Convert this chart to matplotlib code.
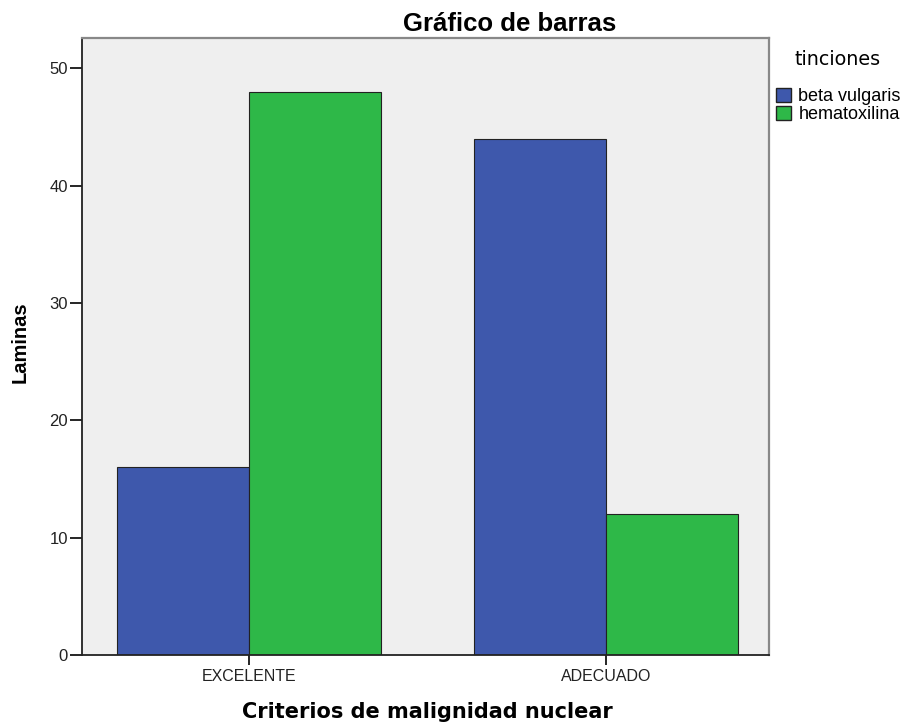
import matplotlib.pyplot as plt
import numpy as np
from matplotlib.patches import Patch

plt.rcParams['font.family'] = ['Liberation Sans', 'DejaVu Sans']

categories = ["EXCELENTE", "ADECUADO"]
series_names = ["beta vulgaris", "hematoxilina"]
beta_vulgaris = [16, 44]
hematoxilina = [48, 12]
yticks = [0, 10, 20, 30, 40, 50]

colors = ["#3e58ac", "#2eb848"]

W, H = 904, 722
fig = plt.figure(figsize=(W / 100, H / 100), dpi=100)
ax = fig.add_axes([82 / W, 1 - 655 / H, (769 - 82) / W, (655 - 38) / H])
ax.set_facecolor("#efefef")

x = np.arange(len(categories))
w = 0.37
ax.bar(x - w / 2, beta_vulgaris, w, color=colors[0], edgecolor="#222222", linewidth=0.8)
ax.bar(x + w / 2, hematoxilina, w, color=colors[1], edgecolor="#222222", linewidth=0.8)

ax.set_xlim(-0.468, 1.457)
ax.set_ylim(0, 52.6)
ax.set_xticks(x)
ax.set_xticklabels(categories, fontsize=11.5, color="#222222")
ax.set_yticks(yticks)
ax.tick_params(axis="y", labelsize=12, length=9, width=1.2, pad=1, labelcolor="#222222")
ax.tick_params(axis="x", length=7, width=1.2, pad=3)

for s in ["top", "right"]:
    ax.spines[s].set_color("#888888")
    ax.spines[s].set_linewidth(1.6)
for s in ["left", "bottom"]:
    ax.spines[s].set_color("#222222")
    ax.spines[s].set_linewidth(1.3)

# titles placed in pixel terms
fig.text(510 / W, 1 - 31 / H, "Gráfico de barras", fontsize=18.5, fontweight="bold",
         ha="center", va="baseline")
fig.text(242 / W, 1 - 718 / H, "Criterios de malignidad nuclear", fontsize=15,
         fontweight="bold", family=["DejaVu Sans"], ha="left", va="baseline")
fig.text(11 / W, 1 - 342 / H, "Laminas", fontsize=14.5, fontweight="bold",
         rotation=90, ha="left", va="center")

# legend: title as separate text, entries below
fig.text(838 / W, 1 - 65 / H, "tinciones", fontsize=13.8, family=["DejaVu Sans"],
         ha="center", va="baseline")
handles = [Patch(facecolor=c, edgecolor="#222222", label=n) for c, n in zip(colors, series_names)]
leg = fig.legend(handles=handles, loc="upper left",
                 bbox_to_anchor=(776 / W, 1 - 88 / H), frameon=False, fontsize=13,
                 handlelength=0.82, handleheight=0.82,
                 handletextpad=0.42, borderaxespad=0, borderpad=0, labelspacing=0.05)

fig.savefig("out.png", dpi=100)
